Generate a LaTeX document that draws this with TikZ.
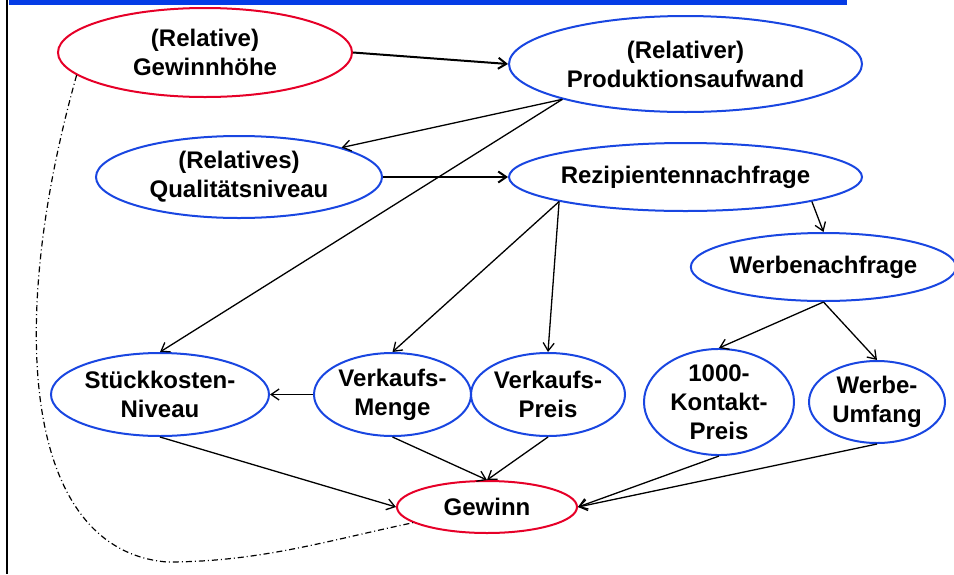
\documentclass[tikz,border=0pt]{standalone}
\usepackage{fontspec}
\setmainfont{Liberation Sans}
\usetikzlibrary{arrows.meta,shapes.geometric}
\definecolor{knotenblau}{RGB}{25,70,225}
\definecolor{balkenblau}{RGB}{5,60,230}
\definecolor{knotenrot}{RGB}{230,0,40}

\begin{document}
\begin{tikzpicture}[x=1pt,y=-1pt,
  knoten/.style={ellipse,draw=knotenblau,line width=2pt,inner sep=0pt,align=center,
    font=\fontsize{24}{29}\selectfont\bfseries},
  ziel/.style={knoten,draw=knotenrot},
  pfeil/.style={-{Straight Barb[length=8pt,width=11pt]},line width=1.3pt},
  dickpfeil/.style={pfeil,line width=2pt}]
  \useasboundingbox (0,0) rectangle (954,574);
  \fill[balkenblau] (9,0) rectangle (847,5);
  \draw[line width=2.5pt] (7,0) -- (7,574);

  \node[ziel,minimum width=294pt,minimum height=89pt] (gh) at (205,52.5) {(Relative)\\Gewinnhöhe};
  \node[knoten,minimum width=353pt,minimum height=96pt] (pa) at (685.5,64) {(Relativer)\\Produktionsaufwand};
  \node[knoten,minimum width=286pt,minimum height=82pt] (qn) at (239,177) {(Relatives)\\Qualitätsniveau};
  \node[knoten,minimum width=353pt,minimum height=68pt] (rn) at (685.5,177) {Rezipientennachfrage};
  \node[knoten,minimum width=241pt,minimum height=68pt] (wn) at (823.5,267) {Werbenachfrage};
  \node[knoten,minimum width=218pt,minimum height=83pt] (sk) at (160,394.5) {Stückkosten-\\Niveau};
  \node[knoten,minimum width=157pt,minimum height=83pt] (vm) at (392.5,394.5) {Verkaufs-\\Menge};
  \node[knoten,minimum width=154pt,minimum height=83pt] (vp) at (548,394.5) {Verkaufs-\\Preis};
  \node[knoten,minimum width=150pt,minimum height=98pt] (kp) at (719,402) {1000-\\Kontakt-\\Preis};
  \node[knoten,minimum width=136pt,minimum height=82pt] (wu) at (877,402) {Werbe-\\Umfang};
  \node[ziel,minimum width=180pt,minimum height=52pt] (gw) at (487,507) {Gewinn};

  \draw[dickpfeil] (gh.east) -- (pa.west);
  \draw[pfeil] (pa.196) -- (qn.16);
  \draw[pfeil] (pa.196) -- (sk.north);
  \draw[dickpfeil] (qn.east) -- (rn.west);
  \draw[pfeil] (rn.191) -- (vm.north);
  \draw[pfeil] (rn.191) -- (vp.north);
  \draw[pfeil] (rn.349) -- (wn.north);
  \draw[pfeil] (wn.south) -- (kp.north);
  \draw[pfeil] (wn.south) -- (wu.north);
  \draw[pfeil] (vm.west) -- (sk.east);
  \draw[pfeil] (sk.south) -- (gw.west);
  \draw[pfeil] (vm.south) -- (gw.north);
  \draw[pfeil] (vp.south) -- (gw.north);
  \draw[pfeil] (kp.south) -- (gw.east);
  \draw[pfeil] (wu.south) -- (gw.east);
  \draw[line width=1.2pt,dash pattern=on 6pt off 3pt on 1pt off 3pt]
    (gh.190) .. controls (5,330) and (25,550) .. (167,562)
    .. controls (260,562) and (330,540) .. (gw.192);
\end{tikzpicture}
\end{document}
